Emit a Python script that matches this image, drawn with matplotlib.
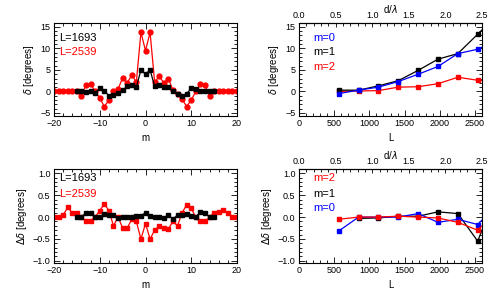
import numpy as np
import matplotlib
matplotlib.use('Agg')
from matplotlib import pyplot as plt
from matplotlib.ticker import MultipleLocator, AutoMinorLocator

plt.rcParams['font.family'] = ['Liberation Sans', 'DejaVu Sans']
plt.rcParams['font.size'] = 7

# ---- left panels: delta vs m ----
m_black = np.arange(-15, 16)
m_red = np.arange(-20, 21)

delta_1693 = [0, 0, -0.2, 0, -0.3, 0.7, 0.2, -1, -0.8, -0.3, 0.3, 1.2, 1.5, 1.0, 5.0,
              4.0, 5.0, 1.2, 1.5, 1.0, 1.0, 0, -0.5, -1, -0.5, 0.7, 0.5, 0, 0.2, 0, 0]
delta_2539 = [0, 0, 0, 0, 0, 0, -1, 1.5, 1.7, 0, -1.5, -3.5, -2, 0, 0.5, 3.2, 2.0, 3.8, 2.2, 13.7,
              9.5, 13.7, 2.2, 3.5, 2.0, 3.0, 0.3, -0.5, -1.8, -3.5, -2, 0, 1.7, 1.5, -1, 0, 0, 0, 0, 0, 0]

ddelta_1693 = [0, 0, 0.1, 0.1, 0, 0, 0.07, 0.05, 0.05, -0.02, 0, 0, 0, 0.02, 0.03,
               0.1, 0.02, 0, 0, -0.02, 0.05, -0.05, 0.05, 0.05, 0.07, 0.03, 0, 0.12, 0.1, 0, 0]
ddelta_2539 = [0, 0, 0.05, 0.22, 0.1, 0.1, 0, -0.1, -0.08, 0, 0.15, 0.3, 0.15, -0.2, 0, -0.25,
               -0.25, -0.05, -0.1, -0.5, -0.15, -0.5, -0.3, -0.2, -0.25, -0.27, -0.1, -0.2, 0.1,
               0.28, 0.2, 0, -0.1, -0.1, 0, 0.1, 0.12, 0.17, 0.1, 0, 0]

# ---- right panels: delta vs L ----
L = [564, 846, 1128, 1410, 1693, 1975, 2257, 2539, 2821]
delta_m0 = [-0.5, 0.3, 1.0, 2.3, 4.0, 5.8, 8.8, 9.8, 12.1]
delta_m1 = [0.3, 0.3, 1.3, 2.5, 4.9, 7.5, 8.8, 13.3, 17.9]
delta_m2 = [0, 0.1, 0.2, 1.0, 1.1, 1.8, 3.3, 2.6, 2.4]

dd_m0 = [-0.32, 0, 0, 0, 0.08, -0.12, -0.05, -0.17, 0.3]
dd_m1 = [np.nan, -0.03, -0.02, 0.02, 0.02, 0.12, 0.08, -0.55, 0.6]
dd_m2 = [-0.05, 0, 0, 0.02, 0, -0.02, -0.12, -0.3, 0.15]

fig = plt.figure(figsize=(4.91, 2.95), dpi=100)
W, H = 491., 295.


def box(l, t, r, b):
    return fig.add_axes([l / W, 1 - b / H, (r - l) / W, (b - t) / H])


def style(ax, top=True):
    ax.tick_params(which='both', direction='in', top=top, right=True, labelsize=6.5, pad=2.5)
    ax.tick_params(which='major', length=4, width=0.6)
    ax.tick_params(which='minor', length=2, width=0.6)
    for s in ax.spines.values():
        s.set_linewidth(0.8)


ax1 = box(54, 23, 237, 116)
ax2 = box(299, 23, 482, 116)
ax3 = box(54, 169, 237, 263)
ax4 = box(299, 169, 482, 263)

# panel 1
ax1.plot(m_red, delta_2539, '-o', color='red', ms=3.5, lw=0.9)
ax1.plot(m_black, delta_1693, '-s', color='black', ms=3, lw=0.9)
ax1.set_xlim(-20, 20)
ax1.set_ylim(-5.7, 15.9)
ax1.xaxis.set_major_locator(MultipleLocator(10))
ax1.xaxis.set_minor_locator(AutoMinorLocator(5))
ax1.yaxis.set_major_locator(MultipleLocator(5))
ax1.yaxis.set_minor_locator(AutoMinorLocator(5))
ax1.set_xlabel('m', labelpad=3)
ax1.set_ylabel(r'$\delta$ [degrees]', labelpad=3)
ax1.text(0.03, 0.84, 'L=1693', color='black', fontsize=8, transform=ax1.transAxes, va='center')
ax1.text(0.03, 0.69, 'L=2539', color='red', fontsize=8, transform=ax1.transAxes, va='center')
style(ax1)

# panel 3
ax3.plot(m_red, ddelta_2539, '-s', color='red', ms=3, lw=0.9)
ax3.plot(m_black, ddelta_1693, '-s', color='black', ms=3, lw=0.9)
ax3.set_xlim(-20, 20)
ax3.set_ylim(-1.05, 1.1)
ax3.xaxis.set_major_locator(MultipleLocator(10))
ax3.xaxis.set_minor_locator(AutoMinorLocator(5))
ax3.yaxis.set_major_locator(MultipleLocator(0.5))
ax3.yaxis.set_minor_locator(AutoMinorLocator(5))
ax3.set_xlabel('m', labelpad=3)
ax3.set_ylabel(r'$\Delta\delta$ [degrees]', labelpad=3)
ax3.text(0.03, 0.90, 'L=1693', color='black', fontsize=8, transform=ax3.transAxes, va='center')
ax3.text(0.03, 0.73, 'L=2539', color='red', fontsize=8, transform=ax3.transAxes, va='center')
style(ax3)

# panel 2
ax2.plot(L, delta_m2, '-s', color='red', ms=3, lw=0.9)
ax2.plot(L, delta_m1, '-s', color='black', ms=3, lw=0.9)
ax2.plot(L, delta_m0, '-s', color='blue', ms=3, lw=0.9)
ax2.set_ylim(-5.7, 15.9)
ax2.yaxis.set_major_locator(MultipleLocator(5))
ax2.yaxis.set_minor_locator(AutoMinorLocator(5))
ax2.set_ylabel(r'$\delta$ [degrees]', labelpad=3)
ax2.text(0.08, 0.84, 'm=0', color='blue', fontsize=8, transform=ax2.transAxes, va='center')
ax2.text(0.08, 0.685, 'm=1', color='black', fontsize=8, transform=ax2.transAxes, va='center')
ax2.text(0.08, 0.53, 'm=2', color='red', fontsize=8, transform=ax2.transAxes, va='center')

# panel 4
ax4.plot(L, dd_m1, '-s', color='black', ms=3, lw=0.9)
ax4.plot(L, dd_m0, '-s', color='blue', ms=3, lw=0.9)
ax4.plot(L, dd_m2, '-s', color='red', ms=3, lw=0.9)
ax4.set_ylim(-1.05, 1.1)
ax4.yaxis.set_major_locator(MultipleLocator(0.5))
ax4.yaxis.set_minor_locator(AutoMinorLocator(5))
ax4.set_ylabel(r'$\Delta\delta$ [degrees]', labelpad=3)
ax4.text(0.08, 0.90, 'm=2', color='red', fontsize=8, transform=ax4.transAxes, va='center')
ax4.text(0.08, 0.73, 'm=1', color='black', fontsize=8, transform=ax4.transAxes, va='center')
ax4.text(0.08, 0.585, 'm=0', color='blue', fontsize=8, transform=ax4.transAxes, va='center')

for ax in (ax2, ax4):
    ax.set_xlim(0, 2600)
    ax.xaxis.set_major_locator(MultipleLocator(500))
    ax.xaxis.set_minor_locator(AutoMinorLocator(5))
    ax.set_xlabel('L', labelpad=3)
    style(ax, top=False)
    sec = ax.secondary_xaxis('top', functions=(lambda x: x / 1040., lambda x: x * 1040.))
    sec.xaxis.set_major_locator(MultipleLocator(0.5))
    sec.xaxis.set_minor_locator(AutoMinorLocator(5))
    sec.xaxis.set_major_formatter(plt.FormatStrFormatter('%.1f'))
    sec.tick_params(which='both', direction='in', labelsize=6.5, pad=2.5)
    sec.tick_params(which='major', length=3, width=0.6)
    sec.tick_params(which='minor', length=2, width=0.6)
    sec.set_xlabel(r'd/$\lambda$', labelpad=-2)

fig.savefig('out.png', dpi=100)
